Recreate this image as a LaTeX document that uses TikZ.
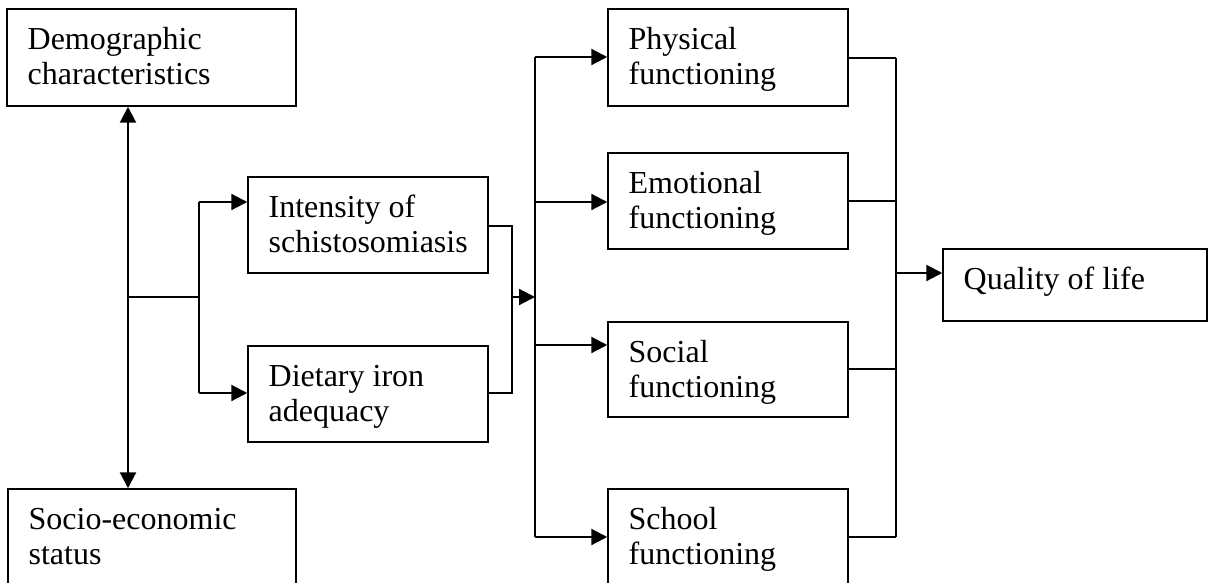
\documentclass[tikz,border=0pt]{standalone}
\usepackage{fontspec}
\setmainfont{Liberation Serif}
\usetikzlibrary{arrows.meta,fit}
\tikzset{
  box/.style={draw=black, line width=0.75pt, inner sep=0pt, fill=none},
  lbl/.style={anchor=base west, inner sep=0pt, align=left,
    font=\fontsize{16pt}{17.5pt}\selectfont},
  arr/.style={line width=1.1pt, -{Triangle[length=8pt,width=8pt]}},
  darr/.style={line width=1.1pt, {Triangle[length=8pt,width=8pt]}-{Triangle[length=8pt,width=8pt]}},
  thick line/.style={line width=1.1pt},
  thin line/.style={line width=0.75pt},
}
\begin{document}
\begin{tikzpicture}[x=0.5pt,y=-0.5pt]
\useasboundingbox (0,0) rectangle (1210,583);
\clip (0,0) rectangle (1210,583);
\fill[white] (0,0) rectangle (1210,583);
% boxes
\node[box, fit={(7,9) (296,106)}] (demo) {};
\node[box, fit={(8,489) (296,586)}] (socio) {};
\node[box, fit={(248,177) (488,273)}] (inten) {};
\node[box, fit={(248,346) (488,442)}] (diet) {};
\node[box, fit={(608,9) (848,106)}] (phys) {};
\node[box, fit={(608,153) (848,249)}] (emot) {};
\node[box, fit={(608,322) (848,417)}] (soc) {};
\node[box, fit={(608,489) (848,586)}] (school) {};
\node[box, fit={(943,249) (1207,321)}] (qol) {};
% labels (base anchor = last line)
\node[lbl] (tdemo) at ([xshift=10.5pt,yshift=-38pt]demo.north west) {Demographic\\characteristics};
\node[lbl] (tsocio) at ([xshift=10.5pt,yshift=-38pt]socio.north west) {Socio-economic\\status};
\node[lbl] (tinten) at ([xshift=10.5pt,yshift=-38pt]inten.north west) {Intensity of\\schistosomiasis};
\node[lbl] (tdiet) at ([xshift=10.5pt,yshift=-38pt]diet.north west) {Dietary iron\\adequacy};
\node[lbl] (tphys) at ([xshift=10.5pt,yshift=-38pt]phys.north west) {Physical\\functioning};
\node[lbl] (temot) at ([xshift=10.5pt,yshift=-38pt]emot.north west) {Emotional\\functioning};
\node[lbl] (tsoc) at ([xshift=10.5pt,yshift=-38pt]soc.north west) {Social\\functioning};
\node[lbl] (tschool) at ([xshift=10.5pt,yshift=-38pt]school.north west) {School\\functioning};
\node[lbl] (tqol) at ([xshift=10.5pt,yshift=-20.5pt]qol.north west) {Quality of life};
% junction coordinates
\coordinate (jL) at (128,297);
\coordinate (jA) at (199,297);
\coordinate (jAt) at (199,202);
\coordinate (jAb) at (199,393);
\coordinate (jB) at (512,297);
\coordinate (jC) at (535,297);
\coordinate (jCt) at (535,57);
\coordinate (jCb) at (535,537);
\coordinate (jD) at (896,273);
% left part
\draw[darr] (demo.south -| jL) -- (socio.north -| jL);
\draw[thin line] (jL) -- (jA);
\draw[thick line] (jAt) -- (jAb);
\draw[arr] (jAt) -- (jAt -| inten.west);
\draw[arr] (jAb) -- (jAb -| diet.west);
% middle
\draw[thin line] (inten.east |- 0,226) -| (jB) |- (diet.east |- 0,393);
\draw[arr] (jB) -- (jC);
\draw[thick line] (jCt) -- (jCb);
\draw[arr] (jCt) -- (jCt -| phys.west);
\draw[arr] (535,202) -- (emot.west |- 0,202);
\draw[arr] (535,345) -- (soc.west |- 0,345);
\draw[arr] (jCb) -- (jCb -| school.west);
% right part
\draw[thin line] (phys.east |- 0,58) -- (896,58);
\draw[thin line] (emot.east |- 0,201) -- (896,201);
\draw[thin line] (soc.east |- 0,369) -- (896,369);
\draw[thin line] (school.east |- 0,537) -- (896,537);
\draw[thick line] (896,58) -- (896,537);
\draw[arr] (jD) -- (jD -| qol.west);
\end{tikzpicture}
\end{document}
